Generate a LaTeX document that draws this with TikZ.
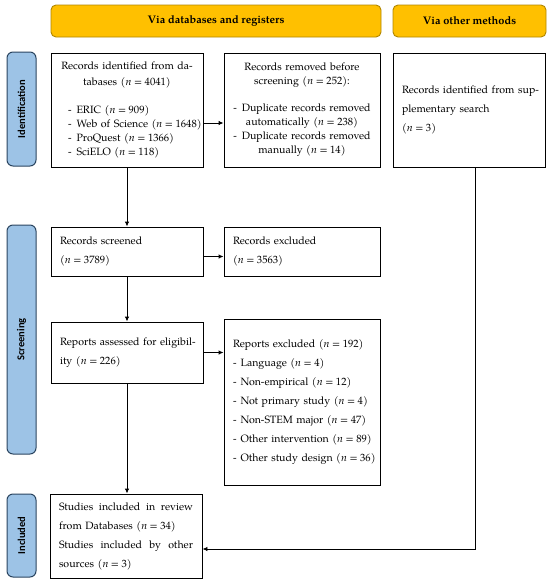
\documentclass[tikz,border=0pt]{standalone}
\usepackage{fontspec}
\setmainfont{texgyrepagella}[Extension=.otf, UprightFont=*-regular, BoldFont=*-bold, ItalicFont=*-italic, BoldItalicFont=*-bolditalic]
\newfontfamily\stagefont{Carlito}
\usetikzlibrary{arrows.meta}
\definecolor{hdrfill}{HTML}{FFC000}
\definecolor{hdrdraw}{HTML}{B08600}
\definecolor{stgfill}{HTML}{9DC3E6}
\definecolor{stgdraw}{HTML}{2B4560}
\newcommand\nval[1]{(\textit{n}\hspace{2.6pt}=\hspace{2.6pt}#1)}
\begin{document}
\begin{tikzpicture}[x=1pt,y=-1pt,
  every node/.style={font=\fontsize{10.6}{14}\selectfont},
  box/.style={draw=black, line width=0.9pt, fill=white, inner xsep=9pt, inner ysep=2pt},
  wide/.style={font=\fontsize{10.6}{19}\selectfont},
  header/.style={draw=hdrdraw, line width=0.9pt, fill=hdrfill, rounded corners=5pt,
    font=\fontsize{11}{12}\selectfont\bfseries, inner sep=0pt},
  stage/.style={draw=stgdraw, line width=1pt, fill=stgfill, rounded corners=6pt, inner sep=0pt},
  stagetext/.style={rotate=90, font=\stagefont\fontsize{10.5}{12}\selectfont\bfseries},
  arr/.style={line width=0.9pt, -{Latex[length=5pt,width=4.5pt]}}
]
\useasboundingbox (0,0) rectangle (550,584);

% headers
\node[header, minimum width=330pt, minimum height=32pt] (h1) at (216,21) {Via databases and registers};
\node[header, minimum width=153pt, minimum height=32pt] (h2) at (469.5,21) {Via other methods};

% stage labels
\node[stage, minimum width=29pt, minimum height=114pt] (s1) at (21.5,109) {};
\node[stagetext] at (s1.center) {Identification};
\node[stage, minimum width=29pt, minimum height=229pt] (s2) at (21.5,339.5) {};
\node[stagetext] at (s2.center) {Screening};
\node[stage, minimum width=29pt, minimum height=83pt] (s3) at (21.5,535.5) {};
\node[stagetext] at (s3.center) {Included};

% identification row
\node[box, text width=134pt, minimum height=114pt, align=center] (b1) at (127,110)
  {\mbox{Records identified from da-}\\[2pt]tabases \nval{4041}\\[14pt]
   \makebox[118pt][l]{-\hspace{5pt}ERIC \nval{909}}\\
   \makebox[118pt][l]{-\hspace{5pt}Web of Science \nval{1648}}\\
   \makebox[118pt][l]{-\hspace{5pt}ProQuest \nval{1366}}\\
   \makebox[118pt][l]{-\hspace{5pt}SciELO \nval{118}}};
\node[box, text width=138pt, minimum height=114pt, align=center] (b2) at (302,110)
  {Records removed before\\screening \nval{252}:\\[13pt]
   \mbox{-\hspace{5pt}Duplicate records removed}\\automatically \nval{238}\\
   \mbox{-\hspace{5pt}Duplicate records removed}\\manually \nval{14}};
\node[box, wide, text width=134pt, minimum height=114pt, align=left] (b3) at (469,110)
  {\mbox{Records identified from sup-}\\plementary search\\\nval{3}};

% screening
\node[box, wide, text width=134pt, minimum height=49pt, align=left] (scr) at (127,251.5)
  {Records screened\\\nval{3789}};
\node[box, wide, text width=138pt, minimum height=49pt, align=left] (rex) at (302,251.5)
  {Records excluded\\\nval{3563}};
\node[box, wide, text width=134pt, minimum height=61pt, align=left] (ass) at (127,352.5)
  {\mbox{Reports assessed for eligibil-}\\ity \nval{226}};
\node[box, wide, text width=138pt, minimum height=166pt, align=left] (rpx) at (302,402)
  {\mbox{Reports excluded \nval{192}}\\
   \mbox{-\hspace{4pt}Language \nval{4}}\\
   \mbox{-\hspace{4pt}Non-empirical \nval{12}}\\
   \mbox{-\hspace{4pt}Not primary study \nval{4}}\\
   \mbox{-\hspace{4pt}Non-STEM major \nval{47}}\\
   \mbox{-\hspace{4pt}Other intervention \nval{89}}\\
   \mbox{-\hspace{4pt}Other study design \nval{36}}};

% included
\node[box, wide, text width=134pt, minimum height=84pt, align=left] (inc) at (126,536)
  {\makebox[134pt][l]{Studies\hfill included\hfill in\hfill review}\\
   from Databases \nval{34}\\
   \makebox[134pt][l]{Studies\hfill included\hfill by\hfill other}\\
   sources \nval{3}};

% connectors
\draw[arr] ([yshift=-13pt]b1.east) -- ([yshift=-13pt]b2.west);
\draw[arr] (b1.south) -- (scr.north);
\draw[arr] ([yshift=-5pt]scr.east) -- ([yshift=-5pt]rex.west);
\draw[arr] (scr.south) -- (ass.north);
\draw[arr] (ass.east) -- (ass.east -| rpx.west);
\draw[arr] (ass.south) -- (ass.south |- inc.north);
\draw[arr] ([xshift=6pt]b3.south) |- ([yshift=-13pt]inc.east);
\end{tikzpicture}
\end{document}
